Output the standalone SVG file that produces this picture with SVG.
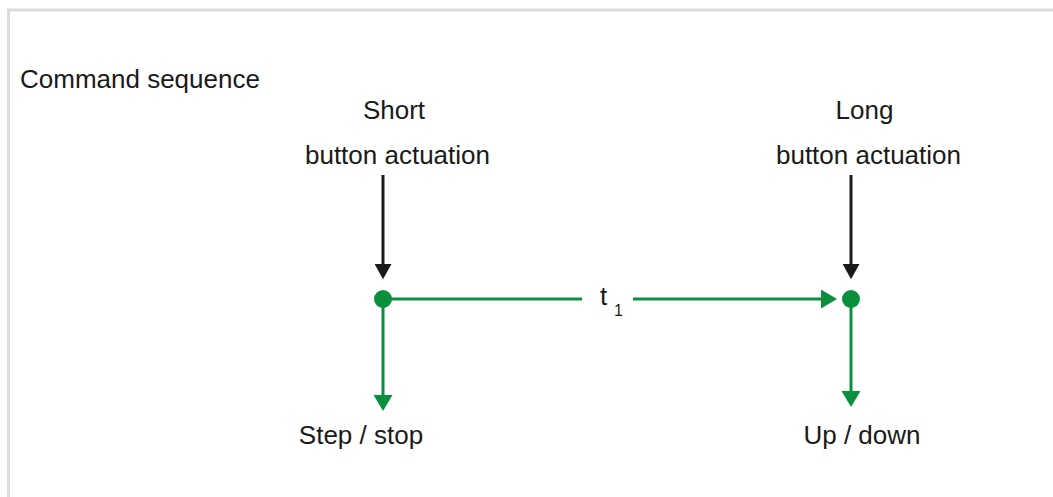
<svg xmlns="http://www.w3.org/2000/svg" width="1053" height="497" viewBox="0 0 1053 497">
  <style>
    text { font-family: "Liberation Sans", Arial, sans-serif; fill: #1a1a1a; }
    .lbl { font-size: 26px; }
    .mid { text-anchor: middle; }
    .blk { stroke: #1a1a1a; stroke-width: 3; fill: none; }
    .grn { stroke: #0a8f3c; stroke-width: 3; fill: none; }
    .dot { fill: #0a8f3c; }
  </style>
  <defs>
    <marker id="ahBlack" markerUnits="userSpaceOnUse" markerWidth="19" markerHeight="17" refX="9" refY="9.5" orient="auto" viewBox="0 0 17 19">
      <path d="M0,0 L17,9.5 L0,19 z" fill="#1a1a1a"/>
    </marker>
    <marker id="ahGreen" markerUnits="userSpaceOnUse" markerWidth="16" markerHeight="19" refX="8" refY="9.5" orient="auto" viewBox="0 0 16 19">
      <path d="M0,0 L16,9.5 L0,19 z" fill="#0a8f3c"/>
    </marker>
  </defs>
  <rect x="0" y="0" width="1053" height="497" fill="#ffffff"/>
  <rect id="frame" x="8.5" y="10" width="1100" height="600" fill="none" stroke="#dcdcdc" stroke-width="3"/>

  <g id="title">
    <text class="lbl" x="20" y="88">Command sequence</text>
  </g>

  <g id="node-short-input">
    <text class="lbl mid" x="394" y="119">Short</text>
    <text class="lbl mid" x="397.5" y="164">button actuation</text>
  </g>
  <g id="node-long-input">
    <text class="lbl mid" x="864.5" y="119">Long</text>
    <text class="lbl mid" x="868.5" y="164">button actuation</text>
  </g>
  <g id="node-short-point">
    <circle class="dot" cx="383" cy="299" r="9"/>
  </g>
  <g id="node-long-point">
    <circle class="dot" cx="851" cy="299" r="9"/>
  </g>
  <g id="node-t1">
    <text x="600" y="305" style="font-size:26px">t</text>
    <text x="614" y="316" style="font-size:16px">1</text>
  </g>
  <g id="node-step-stop">
    <text class="lbl mid" x="361" y="444">Step / stop</text>
  </g>
  <g id="node-up-down">
    <text class="lbl mid" x="862" y="444">Up / down</text>
  </g>

  <g id="connectors">
    <line class="blk" x1="383" y1="175" x2="383" y2="272" marker-end="url(#ahBlack)"/>
    <line class="blk" x1="851" y1="175" x2="851" y2="272" marker-end="url(#ahBlack)"/>
    <line class="grn" x1="383" y1="299" x2="582" y2="299"/>
    <line class="grn" x1="633" y1="299" x2="829" y2="299" marker-end="url(#ahGreen)"/>
    <line class="grn" x1="383" y1="299" x2="383" y2="403" marker-end="url(#ahGreen)"/>
    <line class="grn" x1="851" y1="299" x2="851" y2="399" marker-end="url(#ahGreen)"/>
  </g>
</svg>
